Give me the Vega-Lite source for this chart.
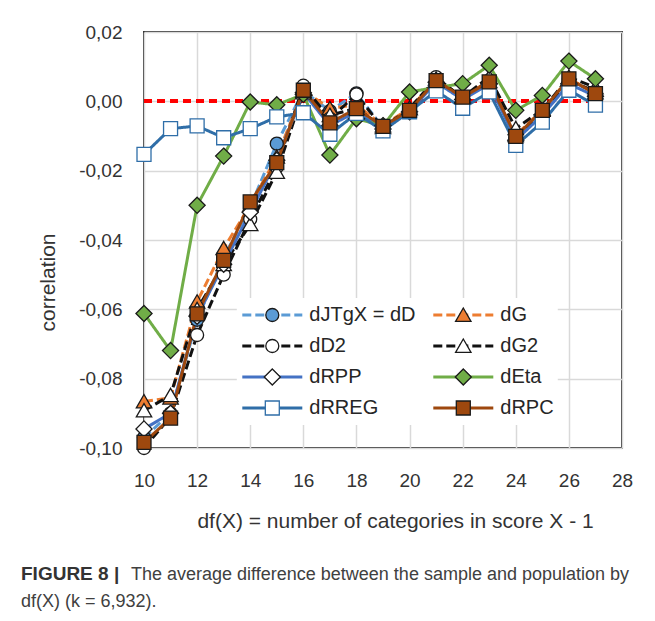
{
  "$schema": "https://vega.github.io/schema/vega-lite/v6.json",
  "width": 478,
  "height": 416,
  "autosize": {"type": "none"},
  "padding": {"left": 144, "top": 32, "right": 33, "bottom": 173},
  "background": "white",
  "config": {
    "font": "Liberation Sans",
    "view": {"stroke": "#333333", "strokeWidth": 2},
    "axis": {
      "grid": true,
      "gridColor": "#D9D9D9",
      "gridWidth": 1.5,
      "domain": false,
      "ticks": false,
      "labelFlush": false,
      "labelFont": "Liberation Sans",
      "labelFontSize": 19,
      "labelColor": "#333333",
      "titleFont": "Liberation Sans",
      "titleFontSize": 21,
      "titleFontWeight": "normal",
      "titleColor": "#333333"
    }
  },
  "title": {
    "text": "FIGURE 8 |",
    "subtitle": [
      "\u200b\u00a0\u00a0\u00a0\u00a0\u00a0\u00a0\u00a0\u00a0\u00a0\u00a0\u00a0\u00a0\u00a0\u00a0\u00a0\u00a0\u00a0\u00a0\u00a0\u00a0\u00a0\u00a0The average difference between the sample and population by",
      "df(X) (k = 6,932)."
    ],
    "orient": "bottom",
    "anchor": "start",
    "frame": "group",
    "dx": -123,
    "offset": 34,
    "font": "Liberation Sans",
    "fontSize": 19,
    "fontWeight": "bold",
    "color": "#333333",
    "subtitleFont": "Liberation Sans",
    "subtitleFontSize": 18,
    "subtitleColor": "#404040",
    "subtitlePadding": -18,
    "subtitleLineHeight": 27
  },
  "resolve": {"legend": {"fill": "independent"}},
  "data": {
    "values": [
      {"df": 10, "series": "dJTgX = dD", "value": -0.0970},
      {"df": 11, "series": "dJTgX = dD", "value": -0.0900},
      {"df": 12, "series": "dJTgX = dD", "value": -0.0630},
      {"df": 13, "series": "dJTgX = dD", "value": -0.0450},
      {"df": 14, "series": "dJTgX = dD", "value": -0.0305},
      {"df": 15, "series": "dJTgX = dD", "value": -0.0122},
      {"df": 16, "series": "dJTgX = dD", "value": 0.0030},
      {"df": 17, "series": "dJTgX = dD", "value": -0.0028},
      {"df": 18, "series": "dJTgX = dD", "value": 0.0023},
      {"df": 19, "series": "dJTgX = dD", "value": -0.0075},
      {"df": 20, "series": "dJTgX = dD", "value": -0.0025},
      {"df": 21, "series": "dJTgX = dD", "value": 0.0062},
      {"df": 22, "series": "dJTgX = dD", "value": 0.0010},
      {"df": 23, "series": "dJTgX = dD", "value": 0.0057},
      {"df": 24, "series": "dJTgX = dD", "value": -0.0105},
      {"df": 25, "series": "dJTgX = dD", "value": -0.0030},
      {"df": 26, "series": "dJTgX = dD", "value": 0.0065},
      {"df": 27, "series": "dJTgX = dD", "value": 0.0020},

      {"df": 10, "series": "dG", "value": -0.0866},
      {"df": 11, "series": "dG", "value": -0.0855},
      {"df": 12, "series": "dG", "value": -0.0578},
      {"df": 13, "series": "dG", "value": -0.0424},
      {"df": 14, "series": "dG", "value": -0.0300},
      {"df": 15, "series": "dG", "value": -0.0160},
      {"df": 16, "series": "dG", "value": 0.0030},
      {"df": 17, "series": "dG", "value": -0.0020},
      {"df": 18, "series": "dG", "value": -0.0010},
      {"df": 19, "series": "dG", "value": -0.0070},
      {"df": 20, "series": "dG", "value": -0.0020},
      {"df": 21, "series": "dG", "value": 0.0060},
      {"df": 22, "series": "dG", "value": 0.0015},
      {"df": 23, "series": "dG", "value": 0.0058},
      {"df": 24, "series": "dG", "value": -0.0098},
      {"df": 25, "series": "dG", "value": -0.0025},
      {"df": 26, "series": "dG", "value": 0.0065},
      {"df": 27, "series": "dG", "value": 0.0025},

      {"df": 10, "series": "dD2", "value": -0.1000},
      {"df": 11, "series": "dD2", "value": -0.0910},
      {"df": 12, "series": "dD2", "value": -0.0674},
      {"df": 13, "series": "dD2", "value": -0.0500},
      {"df": 14, "series": "dD2", "value": -0.0340},
      {"df": 15, "series": "dD2", "value": -0.0190},
      {"df": 16, "series": "dD2", "value": 0.0045},
      {"df": 17, "series": "dD2", "value": -0.0050},
      {"df": 18, "series": "dD2", "value": 0.0020},
      {"df": 19, "series": "dD2", "value": -0.0078},
      {"df": 20, "series": "dD2", "value": -0.0028},
      {"df": 21, "series": "dD2", "value": 0.0070},
      {"df": 22, "series": "dD2", "value": 0.0008},
      {"df": 23, "series": "dD2", "value": 0.0060},
      {"df": 24, "series": "dD2", "value": -0.0110},
      {"df": 25, "series": "dD2", "value": -0.0035},
      {"df": 26, "series": "dD2", "value": 0.0060},
      {"df": 27, "series": "dD2", "value": 0.0028},

      {"df": 10, "series": "dG2", "value": -0.0892},
      {"df": 11, "series": "dG2", "value": -0.0848},
      {"df": 12, "series": "dG2", "value": -0.0600},
      {"df": 13, "series": "dG2", "value": -0.0470},
      {"df": 14, "series": "dG2", "value": -0.0355},
      {"df": 15, "series": "dG2", "value": -0.0204},
      {"df": 16, "series": "dG2", "value": 0.0025},
      {"df": 17, "series": "dG2", "value": -0.0040},
      {"df": 18, "series": "dG2", "value": -0.0020},
      {"df": 19, "series": "dG2", "value": -0.0075},
      {"df": 20, "series": "dG2", "value": -0.0020},
      {"df": 21, "series": "dG2", "value": 0.0065},
      {"df": 22, "series": "dG2", "value": 0.0012},
      {"df": 23, "series": "dG2", "value": 0.0070},
      {"df": 24, "series": "dG2", "value": -0.0078},
      {"df": 25, "series": "dG2", "value": -0.0025},
      {"df": 26, "series": "dG2", "value": 0.0070},
      {"df": 27, "series": "dG2", "value": 0.0040},

      {"df": 10, "series": "dRPP", "value": -0.0945},
      {"df": 11, "series": "dRPP", "value": -0.0900},
      {"df": 12, "series": "dRPP", "value": -0.0620},
      {"df": 13, "series": "dRPP", "value": -0.0470},
      {"df": 14, "series": "dRPP", "value": -0.0320},
      {"df": 15, "series": "dRPP", "value": -0.0170},
      {"df": 16, "series": "dRPP", "value": 0.0025},
      {"df": 17, "series": "dRPP", "value": -0.0070},
      {"df": 18, "series": "dRPP", "value": -0.0030},
      {"df": 19, "series": "dRPP", "value": -0.0080},
      {"df": 20, "series": "dRPP", "value": -0.0030},
      {"df": 21, "series": "dRPP", "value": 0.0055},
      {"df": 22, "series": "dRPP", "value": 0.0005},
      {"df": 23, "series": "dRPP", "value": 0.0050},
      {"df": 24, "series": "dRPP", "value": -0.0112},
      {"df": 25, "series": "dRPP", "value": -0.0040},
      {"df": 26, "series": "dRPP", "value": 0.0050},
      {"df": 27, "series": "dRPP", "value": 0.0015},

      {"df": 10, "series": "dEta", "value": -0.0612},
      {"df": 11, "series": "dEta", "value": -0.0719},
      {"df": 12, "series": "dEta", "value": -0.0300},
      {"df": 13, "series": "dEta", "value": -0.0158},
      {"df": 14, "series": "dEta", "value": -0.0002},
      {"df": 15, "series": "dEta", "value": -0.0010},
      {"df": 16, "series": "dEta", "value": 0.0020},
      {"df": 17, "series": "dEta", "value": -0.0155},
      {"df": 18, "series": "dEta", "value": -0.0050},
      {"df": 19, "series": "dEta", "value": -0.0070},
      {"df": 20, "series": "dEta", "value": 0.0027},
      {"df": 21, "series": "dEta", "value": 0.0040},
      {"df": 22, "series": "dEta", "value": 0.0051},
      {"df": 23, "series": "dEta", "value": 0.0104},
      {"df": 24, "series": "dEta", "value": -0.0026},
      {"df": 25, "series": "dEta", "value": 0.0017},
      {"df": 26, "series": "dEta", "value": 0.0116},
      {"df": 27, "series": "dEta", "value": 0.0065},

      {"df": 10, "series": "dRREG", "value": -0.0153},
      {"df": 11, "series": "dRREG", "value": -0.0079},
      {"df": 12, "series": "dRREG", "value": -0.0071},
      {"df": 13, "series": "dRREG", "value": -0.0105},
      {"df": 14, "series": "dRREG", "value": -0.0079},
      {"df": 15, "series": "dRREG", "value": -0.0045},
      {"df": 16, "series": "dRREG", "value": -0.0033},
      {"df": 17, "series": "dRREG", "value": -0.0095},
      {"df": 18, "series": "dRREG", "value": -0.0035},
      {"df": 19, "series": "dRREG", "value": -0.0085},
      {"df": 20, "series": "dRREG", "value": -0.0030},
      {"df": 21, "series": "dRREG", "value": 0.0030},
      {"df": 22, "series": "dRREG", "value": -0.0020},
      {"df": 23, "series": "dRREG", "value": 0.0027},
      {"df": 24, "series": "dRREG", "value": -0.0127},
      {"df": 25, "series": "dRREG", "value": -0.0060},
      {"df": 26, "series": "dRREG", "value": 0.0032},
      {"df": 27, "series": "dRREG", "value": -0.0011},

      {"df": 10, "series": "dRPC", "value": -0.0984},
      {"df": 11, "series": "dRPC", "value": -0.0914},
      {"df": 12, "series": "dRPC", "value": -0.0613},
      {"df": 13, "series": "dRPC", "value": -0.0459},
      {"df": 14, "series": "dRPC", "value": -0.0290},
      {"df": 15, "series": "dRPC", "value": -0.0177},
      {"df": 16, "series": "dRPC", "value": 0.0032},
      {"df": 17, "series": "dRPC", "value": -0.0062},
      {"df": 18, "series": "dRPC", "value": -0.0021},
      {"df": 19, "series": "dRPC", "value": -0.0072},
      {"df": 20, "series": "dRPC", "value": -0.0026},
      {"df": 21, "series": "dRPC", "value": 0.0060},
      {"df": 22, "series": "dRPC", "value": 0.0012},
      {"df": 23, "series": "dRPC", "value": 0.0056},
      {"df": 24, "series": "dRPC", "value": -0.0101},
      {"df": 25, "series": "dRPC", "value": -0.0026},
      {"df": 26, "series": "dRPC", "value": 0.0065},
      {"df": 27, "series": "dRPC", "value": 0.0022}
    ]
  },
  "layer": [
    {
      "mark": {"type": "rule", "color": "#FF0000", "strokeWidth": 3, "strokeDash": [8, 5]},
      "encoding": {
        "y": {"datum": 0, "type": "quantitative"},
        "x": {"datum": 10, "type": "quantitative"},
        "x2": {"datum": 27}
      }
    },
    {
      "mark": {"type": "line", "strokeWidth": 3, "strokeJoin": "round"},
      "encoding": {
        "x": {
          "field": "df",
          "type": "quantitative",
          "scale": {"domain": [10, 28], "nice": false, "zero": false},
          "axis": {
            "values": [10, 12, 14, 16, 18, 20, 22, 24, 26, 28],
            "title": "df(X) = number of categories in score X - 1",
            "labelPadding": 23,
            "titlePadding": 20,
            "titleX": 251
          }
        },
        "y": {
          "field": "value",
          "type": "quantitative",
          "scale": {"domain": [-0.1, 0.02], "nice": false, "zero": false},
          "axis": {
            "values": [-0.1, -0.08, -0.06, -0.04, -0.02, 0, 0.02],
            "labelExpr": "replace(replace(format(datum.value, '.2f'), '.', ','), '\u2212', '-')",
            "title": "correlation",
            "labelPadding": 22,
            "titlePadding": 20,
            "titleY": 250
          }
        },
        "stroke": {
          "field": "series",
          "type": "nominal",
          "scale": {
            "domain": ["dJTgX = dD", "dG", "dD2", "dG2", "dRPP", "dEta", "dRREG", "dRPC"],
            "range": ["#5B9BD5", "#ED7D31", "#111111", "#111111", "#4472C4", "#70AD47", "#2F6EA8", "#9E480E"]
          },
          "legend": {
            "orient": "none",
            "direction": "horizontal",
            "legendX": 92.8,
            "legendY": 266,
            "columns": 2,
            "title": null,
            "symbolType": "stroke",
            "symbolSize": 3600,
            "symbolStrokeWidth": 3,
            "clipHeight": 26,
            "rowPadding": 5,
            "columnPadding": 16,
            "labelOffset": 5.5,
            "labelFont": "Liberation Sans",
            "labelFontSize": 20,
            "labelColor": "#262626",
            "labelLimit": 300,
            "padding": 4,
            "fillColor": "white"
          }
        },
        "strokeDash": {
          "field": "series",
          "type": "nominal",
          "scale": {
            "domain": ["dJTgX = dD", "dG", "dD2", "dG2", "dRPP", "dEta", "dRREG", "dRPC"],
            "range": [[9, 4], [9, 4], [9, 4], [9, 4], [1, 0], [1, 0], [1, 0], [1, 0]]
          }
        }
      }
    },
    {
      "mark": {"type": "point", "filled": true, "opacity": 1, "strokeWidth": 1.3, "size": 196},
      "encoding": {
        "x": {"field": "df", "type": "quantitative"},
        "y": {"field": "value", "type": "quantitative"},
        "fill": {
          "field": "series",
          "type": "nominal",
          "sort": null,
          "scale": {
            "range": ["#5B9BD5", "#ED7D31", "#FFFFFF", "#FFFFFF", "#FFFFFF", "#70AD47", "#FFFFFF", "#9E480E"]
          },
          "legend": {
            "orient": "none",
            "direction": "horizontal",
            "legendX": 93.3,
            "legendY": 266,
            "columns": 2,
            "title": null,
            "symbolSize": 3600,
            "symbolStrokeWidth": 1.3,
            "symbolType": {
              "expr": "indexof(['dJTgX = dD', 'dD2'], datum.value) >= 0 ? 'M-1,0M1,0M-0.217,0A0.217,0.217 0 1,0 0.217,0A0.217,0.217 0 1,0 -0.217,0Z' : indexof(['dG', 'dG2'], datum.value) >= 0 ? 'M-1,0M1,0M0,-0.233L0.257,0.21L-0.257,0.21Z' : indexof(['dRPP', 'dEta'], datum.value) >= 0 ? 'M-1,0M1,0M0,-0.268L0.268,0L0,0.268L-0.268,0Z' : 'M-1,0M1,0M-0.233,-0.233H0.233V0.233H-0.233Z'"
            },
            "symbolStrokeColor": {"expr": "datum.value === 'dRREG' ? '#2F6EA8' : '#1A1A1A'"},
            "clipHeight": 26,
            "rowPadding": 5,
            "columnPadding": 17,
            "labelOffset": 5.5,
            "labelFont": "Liberation Sans",
            "labelFontSize": 20,
            "labelOpacity": 0,
            "labelLimit": 300,
            "padding": 4,
            "symbolOpacity": 1
          }
        },
        "shape": {
          "field": "series",
          "type": "nominal",
          "sort": null,
          "scale": {
            "range": [
              "M-0.93,0A0.93,0.93 0 1,0 0.93,0A0.93,0.93 0 1,0 -0.93,0Z",
              "M0,-1L1.1,0.9L-1.1,0.9Z",
              "M-0.93,0A0.93,0.93 0 1,0 0.93,0A0.93,0.93 0 1,0 -0.93,0Z",
              "M0,-1L1.1,0.9L-1.1,0.9Z",
              "M0,-1.15L1.15,0L0,1.15L-1.15,0Z",
              "M0,-1.15L1.15,0L0,1.15L-1.15,0Z",
              "M-1,-1H1V1H-1Z",
              "M-1,-1H1V1H-1Z"
            ]
          },
          "legend": null
        },
        "stroke": {
          "condition": {"test": "datum.series === 'dRREG'", "value": "#2F6EA8"},
          "value": "#1A1A1A"
        }
      }
    }
  ]
}
